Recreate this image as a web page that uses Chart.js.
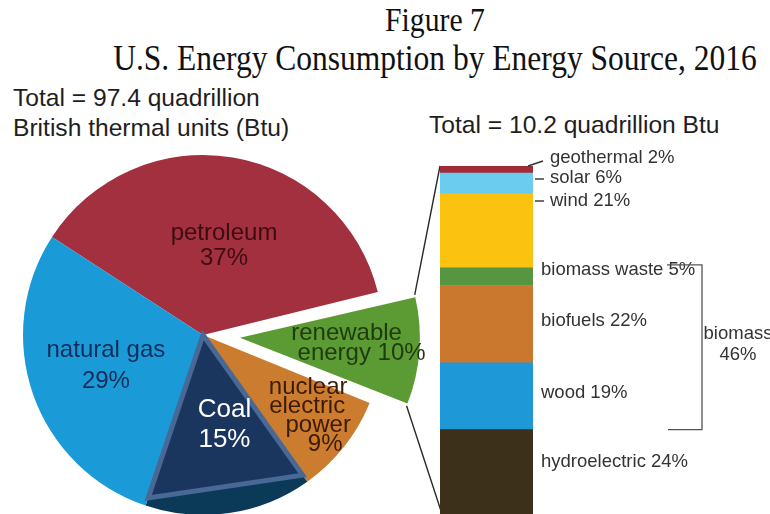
<!DOCTYPE html>
<html>
<head>
<meta charset="utf-8">
<title>U.S. Energy Consumption by Energy Source, 2016</title>
<script src="https://cdn.jsdelivr.net/npm/chart.js@4"></script>
<style>
    html, body { margin: 0; padding: 0; }
    body {
        width: 770px;
        height: 514px;
        overflow: hidden;
        position: relative;
        background: #fff;
        font-family: "Liberation Sans", Arial, sans-serif;
        color: #1e1e1e;
    }
    .txt { position: absolute; white-space: nowrap; line-height: 1; }
    .serif {
        font-family: "Liberation Serif", "Times New Roman", serif;
        color: #111;
        width: 800px;
        left: 35px;
        text-align: center;
        transform: scaleX(0.9);
        transform-origin: center;
    }
    canvas { position: absolute; }
</style>
</head>
<body>
    <div class="txt serif" style="top:4px; font-size:33px;">Figure 7</div>
    <div class="txt serif" style="top:41px; font-size:35px;">U.S. Energy Consumption by Energy Source, 2016</div>
    <div class="txt" style="left:13px; top:83px; font-size:24.6px; line-height:30px;">Total = 97.4 quadrillion<br>British thermal units (Btu)</div>
    <div class="txt" style="left:429px; top:113px; font-size:24.6px;">Total = 10.2 quadrillion Btu</div>

    <canvas id="pie" width="520" height="420" style="left:-57px; top:125px;"></canvas>
    <canvas id="bar" width="370" height="414" style="left:400px; top:100px;"></canvas>

<script>
// shares of total U.S. energy consumption, 2016 (percent)
const sources = ['petroleum', 'renewable energy', 'nuclear electric power', 'Coal', 'natural gas'];
const sourceShares = [37, 10, 9, 15, 29];
const sourceColors = ['#a3303f', '#5c9a34', '#cc7c2e', '#0a3a58', '#1a9bd7'];

// renewable breakdown, top of the bar to the bottom (percent of renewables)
const renewables = ['geothermal', 'solar', 'wind', 'biomass waste', 'biofuels', 'wood', 'hydroelectric'];
const renewableShares = [2, 6, 21, 5, 22, 19, 24];
const renewableColors = ['#a02c3a', '#6cccf0', '#fcc210', '#569642', '#c9782e', '#1e98d6', '#3c301a'];
const biomassParts = ['biomass waste', 'biofuels', 'wood'];

const pieBox = { left: -57, top: 125 };
const barBox = { left: 400, top: 100 };
const R = 180;        // pie radius
const PULL = 37;      // how far the renewable wedge sticks out

const font = size => size + 'px "Liberation Sans", Arial, sans-serif';

// labels to the right of the stacked bar + the biomass bracket
const barLabels = {
    id: 'barLabels',
    afterDatasetsDraw(chart) {
        const ctx = chart.ctx;
        const seg = {};
        chart.data.datasets.forEach((ds, di) => {
            const el = chart.getDatasetMeta(di).data[0];
            seg[ds.label] = { top: el.y, bottom: el.base, right: el.x + el.width / 2, mid: (el.y + el.base) / 2 };
        });
        const top = seg[renewables[0]].top;
        const right = seg[renewables[0]].right;

        ctx.save();
        ctx.font = font(18.5);
        ctx.fillStyle = '#333';
        ctx.strokeStyle = '#333';
        ctx.lineWidth = 1.4;
        ctx.textBaseline = 'middle';

        // the three thin ones get small leader ticks
        const lead = {
            'geothermal': { y: top - 8, tick: [right - 5, top, right + 10, top - 5] },
            'solar':      { y: top + 12, tick: [right + 2, top + 13, right + 11, top + 13] },
            'wind':       { y: top + 35, tick: [right + 2, top + 35, right + 11, top + 35] }
        };
        renewables.forEach((name, i) => {
            const txt = name + ' ' + renewableShares[i] + '%';
            if (lead[name]) {
                const t = lead[name].tick;
                ctx.beginPath();
                ctx.moveTo(t[0], t[1]);
                ctx.lineTo(t[2], t[3]);
                ctx.stroke();
                ctx.fillText(txt, right + 17, lead[name].y);
            } else {
                const dy = name === 'biomass waste' ? -7 : (name === 'hydroelectric' ? -10 : -3);
                ctx.fillText(txt, right + 8, seg[name].mid + dy);
            }
        });

        // biomass bracket
        const bTop = seg[biomassParts[0]].top - 3;
        const bBot = seg[biomassParts[biomassParts.length - 1]].bottom;
        const bx = right + 169;
        ctx.lineWidth = 1.3;
        ctx.strokeStyle = '#555';
        ctx.beginPath();
        ctx.moveTo(right + 134, bTop);
        ctx.lineTo(bx, bTop);
        ctx.lineTo(bx, bBot);
        ctx.lineTo(right + 135, bBot);
        ctx.stroke();

        const biomassTotal = biomassParts.reduce((s, n) => s + renewableShares[renewables.indexOf(n)], 0);
        ctx.textAlign = 'center';
        const bm = (bTop + bBot) / 2;
        ctx.fillText('biomass', right + 205, bm - 13);
        ctx.fillText(biomassTotal + '%', right + 205, bm + 8);
        ctx.restore();
    }
};

// Chart.js also grows a pulled-out wedge; keep it the same size as the others
const explodeFix = {
    id: 'explodeFix',
    afterUpdate(chart) {
        chart.getDatasetMeta(0).data.forEach(arc => {
            const off = (arc.options.offset || 0) / 4;
            if (!off) return;
            const fix = 1 - Math.sin(Math.min(Math.PI, arc.circumference));
            arc.outerRadius -= off * fix;
        });
    }
};

// the outlined triangle drawn over the coal slice
const coalTriangle = {
    id: 'coalTriangle',
    afterDatasetsDraw(chart) {
        const arc = chart.getDatasetMeta(0).data[sources.indexOf('Coal')];
        const r = arc.outerRadius * 0.955;
        const ctx = chart.ctx;
        ctx.save();
        ctx.beginPath();
        ctx.moveTo(arc.x, arc.y);
        ctx.lineTo(arc.x + Math.cos(arc.startAngle) * r, arc.y + Math.sin(arc.startAngle) * r);
        ctx.lineTo(arc.x + Math.cos(arc.endAngle) * r, arc.y + Math.sin(arc.endAngle) * r);
        ctx.closePath();
        ctx.fillStyle = '#1b365e';
        ctx.fill();
        ctx.lineWidth = 5;
        ctx.strokeStyle = '#486896';
        ctx.stroke();
        ctx.restore();
    }
};

const pieLabelStyle = {
    'petroleum':              { lines: v => ['petroleum', v + '%'], d: 0.5, dx: 6, dy: 0, lh: 25, color: '#3d0c10' },
    'renewable energy':       { lines: v => ['renewable', 'energy ' + v + '%'], d: 0.636, dx: 0, dy: -3, lh: 20, shift: [-7.5, 7.5], color: '#1f3b10' },
    'nuclear electric power': { lines: v => ['nuclear', 'electric', 'power', v + '%'], d: 0.767, dx: 3, dy: -5, lh: 19, shift: [-6, -7, 4, 11], color: '#3b1b05' },
    'Coal':                   { lines: v => ['Coal', v + '%'], d: 0.511, dx: 8, dy: -1, lh: 30, size: 26, color: '#ffffff' },
    'natural gas':            { lines: v => ['natural gas', v + '%'], d: 0.583, dx: 2, dy: -4, lh: 31, color: '#0f2d5a' }
};

const pieLabels = {
    id: 'pieLabels',
    afterDatasetsDraw(chart) {
        const meta = chart.getDatasetMeta(0);
        const radius = meta.controller.outerRadius;
        const ctx = chart.ctx;
        ctx.save();
        ctx.textAlign = 'center';
        ctx.textBaseline = 'middle';
        meta.data.forEach((arc, i) => {
            const st = pieLabelStyle[sources[i]];
            const mid = (arc.startAngle + arc.endAngle) / 2;
            const dist = st.d * radius + (arc.options.offset || 0) / 4;
            const x = arc.x + Math.cos(mid) * dist + st.dx;
            const y = arc.y + Math.sin(mid) * dist + st.dy;
            const lines = st.lines(sourceShares[i]);
            ctx.font = font(st.size || 24);
            ctx.fillStyle = st.color;
            lines.forEach((ln, k) => {
                const sx = st.shift ? st.shift[k] : 0;
                ctx.fillText(ln, x + sx, y - (lines.length - 1) * st.lh / 2 + k * st.lh);
            });
        });
        ctx.restore();
    }
};

// lines from the pulled-out wedge to the renewable bar
const connectors = {
    id: 'connectors',
    afterDatasetsDraw(chart) {
        const meta = chart.getDatasetMeta(0);
        const arc = meta.data[sources.indexOf('renewable energy')];
        const radius = meta.controller.outerRadius;
        const pull = arc.options.offset / 4;
        const mid = (arc.startAngle + arc.endAngle) / 2;
        const tx = arc.x + Math.cos(mid) * pull;
        const ty = arc.y + Math.sin(mid) * pull;

        const topEl = barChart.getDatasetMeta(barChart.data.datasets.length - 1).data[0];
        const botEl = barChart.getDatasetMeta(0).data[0];
        const bx = barBox.left - pieBox.left + topEl.x - topEl.width / 2;
        const byTop = barBox.top - pieBox.top + topEl.y;
        const byBot = barBox.top - pieBox.top + botEl.base;

        const ctx = chart.ctx;
        ctx.save();
        ctx.strokeStyle = '#2a2a2a';
        ctx.lineWidth = 1.4;
        ctx.beginPath();
        ctx.moveTo(tx + Math.cos(arc.startAngle) * radius, ty + Math.sin(arc.startAngle) * radius);
        ctx.lineTo(bx, byTop);
        ctx.moveTo(tx + Math.cos(arc.endAngle) * radius, ty + Math.sin(arc.endAngle) * radius);
        ctx.lineTo(bx + 2, byBot);
        ctx.stroke();
        ctx.restore();
    }
};

// bar stacks bottom-up, so hydroelectric goes first
const stackOrder = renewables.map((_, i) => i).reverse();

const barChart = new Chart(document.getElementById('bar'), {
    type: 'bar',
    data: {
        labels: ['renewable'],
        datasets: stackOrder.map(i => ({
            label: renewables[i],
            data: [renewableShares[i]],
            backgroundColor: renewableColors[i],
            borderWidth: 0,
            barPercentage: 1,
            categoryPercentage: 1
        }))
    },
    options: {
        responsive: false,
        animation: false,
        events: [],
        layout: { padding: { left: 40, right: 237, top: 66, bottom: 0 } },
        plugins: { legend: { display: false }, tooltip: { enabled: false } },
        scales: {
            x: { stacked: true, display: false },
            y: { stacked: true, display: false, min: 0, max: renewableShares.reduce((a, b) => a + b, 0) }
        }
    },
    plugins: [barLabels]
});

const pieChart = new Chart(document.getElementById('pie'), {
    type: 'pie',
    data: {
        labels: sources,
        datasets: [{
            data: sourceShares,
            backgroundColor: sourceColors,
            borderWidth: 0,
            offset: sources.map(s => s === 'renewable energy' ? PULL * 4 : 0)
        }]
    },
    options: {
        responsive: false,
        animation: false,
        events: [],
        rotation: 303,
        radius: R,
        plugins: { legend: { display: false }, tooltip: { enabled: false } }
    },
    plugins: [explodeFix, coalTriangle, pieLabels, connectors]
});
</script>
</body>
</html>
